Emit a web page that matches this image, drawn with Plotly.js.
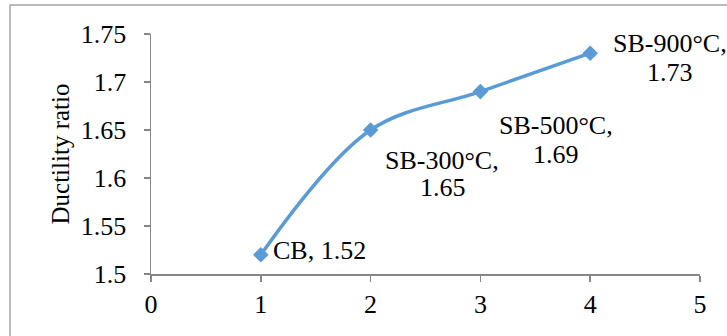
<!DOCTYPE html>
<html>
<head>
<meta charset="utf-8">
<script src="https://cdn.plot.ly/plotly-3.0.1.min.js"></script>
<style>
  html, body { margin: 0; padding: 0; background: #fff; }
  #chart { width: 727px; height: 336px; }
</style>
</head>
<body>
<div id="chart"></div>
<script>
// Data
var categories = ["CB", "SB-300°C", "SB-500°C", "SB-900°C"];
var xValues = [1, 2, 3, 4];
var ductility = [1.52, 1.65, 1.69, 1.73];
var xTicks = [0, 1, 2, 3, 4, 5];
var yTicks = [1.5, 1.55, 1.6, 1.65, 1.7, 1.75];

var FONT = "Liberation Serif, Times New Roman, serif";
var FS = 26;
var BLUE = "#5B9BD5";
var AXIS = "#868686";

var trace = {
  x: xValues,
  y: ductility,
  type: "scatter",
  mode: "lines+markers",
  line: { color: BLUE, width: 3.5, shape: "spline", smoothing: 1 },
  marker: { symbol: "diamond", size: 12, color: BLUE },
  hoverinfo: "skip"
};

// label placement (pixel offsets from each point): [name line, value line]
var labelStyle = [
  { single: true, xanchor: "left", xshift: 10, yshift: 4 },
  { single: false, xshift: [71, 72], yshift: [-30, -57] },
  { single: false, xshift: [76, 76], yshift: [-34, -63] },
  { single: false, xshift: [80, 80], yshift: [10, -19] }
];

var annotations = [];
categories.forEach(function (c, i) {
  var s = labelStyle[i];
  var base = {
    x: xValues[i], y: ductility[i], xref: "x", yref: "y",
    showarrow: false, yanchor: "middle", align: "center",
    font: { family: FONT, size: FS, color: "#000" }
  };
  if (s.single) {
    annotations.push(Object.assign({}, base, {
      text: c + ", " + ductility[i].toFixed(2),
      xanchor: s.xanchor, xshift: s.xshift, yshift: s.yshift
    }));
  } else {
    annotations.push(Object.assign({}, base, {
      text: c + ",", xanchor: "center", xshift: s.xshift[0], yshift: s.yshift[0]
    }));
    annotations.push(Object.assign({}, base, {
      text: ductility[i].toFixed(2), xanchor: "center", xshift: s.xshift[1], yshift: s.yshift[1]
    }));
  }
});

var layout = {
  width: 727, height: 336,
  margin: { l: 151, r: 27, t: 34, b: 61.5, pad: 0 },
  paper_bgcolor: "#fff",
  plot_bgcolor: "#fff",
  showlegend: false,
  font: { family: FONT, size: FS, color: "#000" },
  xaxis: {
    range: [0, 5],
    tickvals: xTicks,
    ticktext: xTicks.map(String),
    showgrid: false, zeroline: false,
    showline: true, linecolor: AXIS, linewidth: 1.5,
    ticks: "outside", ticklen: 6, tickcolor: AXIS, tickwidth: 1.5,
    tickfont: { family: FONT, size: FS, color: "#000" },
    automargin: false
  },
  yaxis: {
    range: [1.5, 1.75],
    tickvals: yTicks,
    ticktext: yTicks.map(String),
    showgrid: false, zeroline: false,
    showline: true, linecolor: AXIS, linewidth: 1.5,
    ticks: "outside", ticklen: 6, tickcolor: AXIS, tickwidth: 1.5,
    ticklabelstandoff: 12,
    tickfont: { family: FONT, size: FS, color: "#000" },
    title: { text: "Ductility ratio", font: { family: FONT, size: 25, color: "#000" }, standoff: 4 },
    automargin: false
  },
  annotations: annotations,
  shapes: [{
    type: "rect", xref: "paper", yref: "paper",
    x0: (10 - 151) / 549, x1: 1.2,
    y0: -0.5, y1: (274.5 - 5) / 240.5,
    line: { color: "#A6A6A6", width: 1.5 },
    fillcolor: "rgba(0,0,0,0)",
    layer: "below"
  }]
};

Plotly.newPlot("chart", [trace], layout, { displayModeBar: false, staticPlot: true });
</script>
</body>
</html>
